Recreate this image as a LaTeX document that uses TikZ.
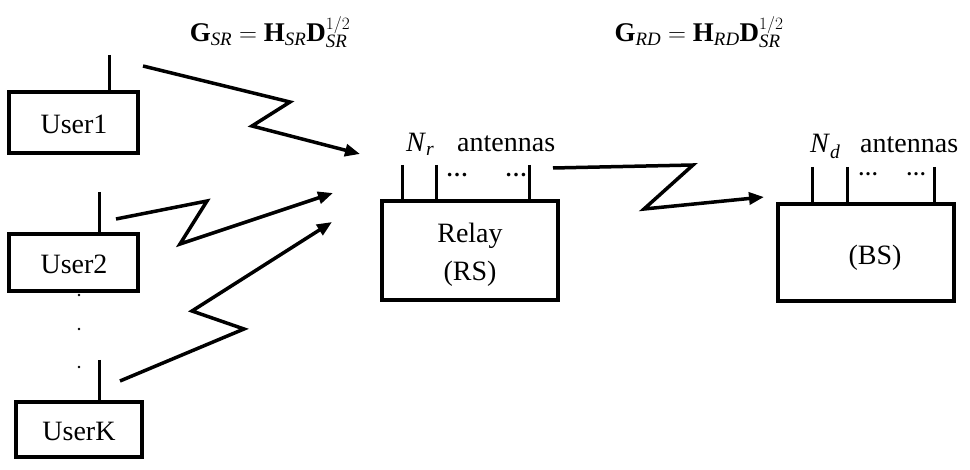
\documentclass[tikz,border=0pt]{standalone}
\usepackage{fontspec}
\setmainfont{Liberation Serif}
\usetikzlibrary{arrows.meta}
\begin{document}
\begin{tikzpicture}[x=1pt,y=-1pt,
  devbox/.style={draw,line width=4pt,inner sep=0pt},
  ant/.style={line width=3pt},
  link/.style={line width=3.5pt,-{Triangle[length=15pt,width=12pt]}},
  lbl/.style={inner sep=0pt,font=\fontsize{28}{38}\selectfont,align=center},
  eq/.style={inner sep=0pt,font=\fontsize{27}{30}\selectfont},
  dotsr/.style={inner sep=0pt,font=\fontsize{22}{24}\selectfont\bfseries},
  vdot/.style={fill,circle,inner sep=0pt,minimum size=2.6pt}]
\useasboundingbox (0,0) rectangle (970,470);
% boxes
\node[devbox,minimum width=129pt,minimum height=61pt] (u1) at (73.5,122.5) {};
\node[devbox,minimum width=129pt,minimum height=57pt] (u2) at (73.5,262.5) {};
\node[devbox,minimum width=126pt,minimum height=55pt] (uk) at (79,429.5) {};
\node[devbox,minimum width=176pt,minimum height=99pt] (rs) at (470,250.5) {};
\node[devbox,minimum width=176pt,minimum height=97pt] (bs) at (866,252.5) {};
\node[lbl] (u1t) at (74,124) {User1};
\node[lbl] (u2t) at (74,264) {User2};
\node[lbl] (ukt) at (79,431) {UserK};
\node[lbl] (rst) at (470,255) {Relay\\(RS)};
\node[lbl] (bst) at (875,258) {(BS)};
% antennas
\coordinate (a1) at (109,55);
\coordinate (a2) at (99,192);
\coordinate (ak) at (99,360);
\draw[ant] (a1) -- (a1|-u1.north);
\draw[ant] (a2) -- (a2|-u2.north);
\draw[ant] (ak) -- (ak|-uk.north);
\coordinate (r1) at (402,165);
\coordinate (r2) at (436,165);
\coordinate (r3) at (529,165);
\draw[ant] (r1) -- (r1|-rs.north);
\draw[ant] (r2) -- (r2|-rs.north);
\draw[ant] (r3) -- (r3|-rs.north);
\coordinate (b1) at (812,167);
\coordinate (b2) at (847,167);
\coordinate (b3) at (934,167);
\draw[ant] (b1) -- (b1|-bs.north);
\draw[ant] (b2) -- (b2|-bs.north);
\draw[ant] (b3) -- (b3|-bs.north);
% antenna dots
\node[dotsr] (rd1) at (457,175) {…};
\node[dotsr] (rd2) at (516,175) {…};
\node[dotsr,font=\fontsize{20}{22}\selectfont\bfseries] (bd1) at (868,174) {…};
\node[dotsr,font=\fontsize{20}{22}\selectfont\bfseries] (bd2) at (916,174) {…};
% vertical dots between users
\node[vdot] (v1) at (79,295) {};
\node[vdot] (v2) at (79,329) {};
\node[vdot] (v3) at (79,367) {};
% labels
\node[lbl,anchor=base west] (nr) at (406,152) {\textit{N}\textsubscript{\textit{r}}};
\node[lbl,anchor=base west] (nra) at (457,152) {antennas};
\node[lbl,anchor=base west] (nd) at (810,153) {\textit{N}\textsubscript{\textit{d}}};
\node[lbl,anchor=base west] (nda) at (860,153) {antennas};
\node[eq,anchor=base] (eq1) at (270,42) {$\mathbf{G}_{\mathit{SR}} = \mathbf{H}_{\mathit{SR}}\mathbf{D}_{\mathit{SR}}^{1/2}$};
\node[eq,anchor=base] (eq2) at (699,42) {$\mathbf{G}_{\mathit{RD}} = \mathbf{H}_{\mathit{RD}}\mathbf{D}_{\mathit{SR}}^{1/2}$};
% links
\coordinate (s1) at (143,66);
\coordinate (t1) at (360,154);
\coordinate (s2) at (116,219);
\coordinate (t2) at (333,193);
\coordinate (sk) at (120,381);
\coordinate (tk) at (332,222);
\coordinate (sr) at (553,168);
\coordinate (tr) at (764,197);
\draw[link] (s1) -- (290,102) -- (252,126) -- (t1);
\draw[link] (s2) -- (207,201) -- (180,244) -- (t2);
\draw[link] (sk) -- (244,329) -- (192,311) -- (tk);
\draw[link] (sr) -- (693,165) -- (644,209) -- (tr);
\end{tikzpicture}
\end{document}
